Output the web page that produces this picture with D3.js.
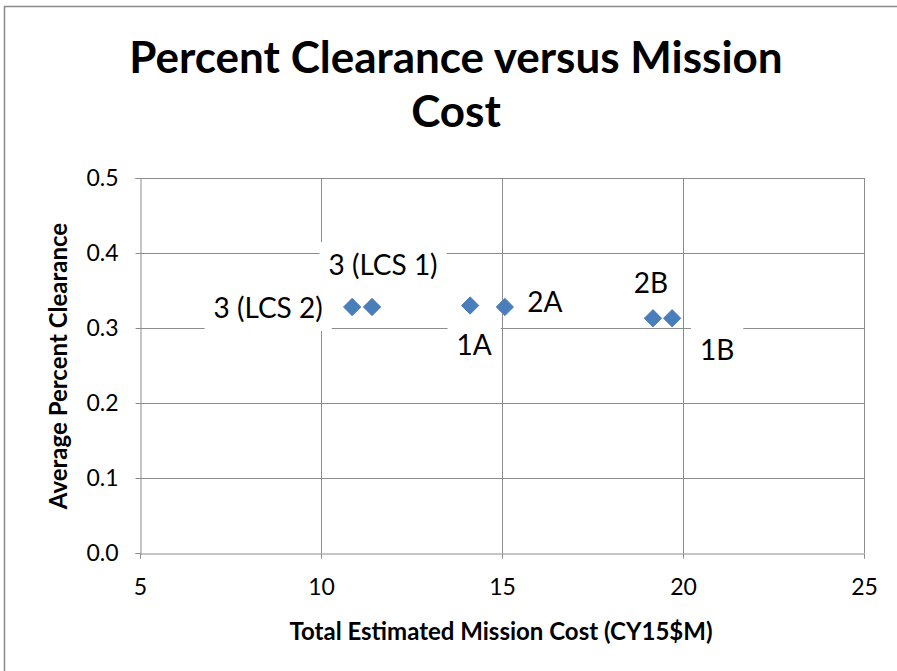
<!DOCTYPE html>
<html>
<head>
<meta charset="utf-8">
<script src="https://cdnjs.cloudflare.com/ajax/libs/d3/7.8.5/d3.min.js"></script>
<style>
  body { margin: 0; background: #fff; }
  svg { display: block; }
  text { font-family: Lato, "Open Sans", sans-serif; fill: #000; }
</style>
</head>
<body>
<svg id="chart"></svg>
<script>
// data
const missions  = ["3 (LCS 2)", "3 (LCS 1)", "1A", "2A", "2B", "1B"];
const costs     = [10.86, 11.41, 14.12, 15.08, 19.17, 19.70];   // CY15 $M
const clearance = [0.328, 0.328, 0.330, 0.328, 0.313, 0.313];
const xTicks = [5, 10, 15, 20, 25];
const yTicks = [0, 0.1, 0.2, 0.3, 0.4, 0.5];

// label placement (offset of label centre from the point, px)
const labelOffset = {
  "3 (LCS 2)": [-84, 1],
  "3 (LCS 1)": [11, -42],
  "1A":        [4, 40],
  "2A":        [40, -5],
  "2B":        [-2, -35],
  "1B":        [45, 32]
};

const width = 897, height = 671;
const margin = {left: 140, right: 33, top: 178, bottom: 118};
const gridColor = '#8c8c8c';
const markerColor = '#4a7ebb';

const svg = d3.select('#chart').attr('width', width).attr('height', height);

// outer chart frame (runs off the right / bottom of the picture)
svg.append('rect')
   .attr('x', 4.5).attr('y', 6.5)
   .attr('width', width + 10).attr('height', height + 10)
   .attr('fill', '#fff').attr('stroke', '#8a8a8a').attr('stroke-width', 1.5);

const x = d3.scaleLinear().domain([5, 25]).range([margin.left, width - margin.right]);
const y = d3.scaleLinear().domain([0, 0.5]).range([height - margin.bottom, margin.top]);

const plot = svg.append('g');

// gridlines
plot.append('g')
    .selectAll('line.h')
    .data(yTicks.slice(1))
    .join('line')
      .attr('x1', x(5)).attr('x2', x(25))
      .attr('y1', d => Math.round(y(d)) + 0.5).attr('y2', d => Math.round(y(d)) + 0.5)
      .attr('stroke', gridColor).attr('stroke-width', 1);

plot.append('g')
    .selectAll('line.v')
    .data(xTicks.slice(1))
    .join('line')
      .attr('x1', d => Math.round(x(d)) + 0.5).attr('x2', d => Math.round(x(d)) + 0.5)
      .attr('y1', y(0.5)).attr('y2', y(0))
      .attr('stroke', gridColor).attr('stroke-width', 1);

// axes
const xAxis = d3.axisBottom(x).tickValues(xTicks).tickSize(5).tickPadding(20).tickFormat(d3.format('d'));
const yAxis = d3.axisLeft(y).tickValues(yTicks).tickSize(5).tickPadding(17).tickFormat(d3.format('.1f'));

const gx = plot.append('g')
    .attr('transform', `translate(0,${Math.round(y(0)) + 0.5})`)
    .call(xAxis);
const gy = plot.append('g')
    .attr('transform', `translate(${Math.round(x(5)) + 0.5},0)`)
    .call(yAxis);

[gx, gy].forEach(g => {
  g.select('.domain').attr('stroke', gridColor);
  g.selectAll('.tick line').attr('stroke', gridColor);
  g.selectAll('.tick text')
   .attr('font-family', 'Lato, sans-serif')
   .attr('font-size', 23)
   .attr('fill', '#222');
});

// data labels with white boxes (they cut the gridlines like in Excel)
const points = missions.map((m, i) => ({name: m, cost: costs[i], clr: clearance[i]}));

const labels = plot.append('g').selectAll('g')
    .data(points)
    .join('g')
      .attr('transform', d => {
        const o = labelOffset[d.name];
        return `translate(${x(d.cost) + o[0]},${y(d.clr) + o[1]})`;
      });

labels.append('rect').attr('fill', '#fff');
labels.append('text')
    .attr('text-anchor', 'middle')
    .attr('dy', '0.35em')
    .attr('font-size', 28)
    .attr('fill', '#111')
    .text(d => d.name);

labels.each(function() {
  const g = d3.select(this);
  const w = g.select('text').node().getComputedTextLength();
  g.select('rect')
   .attr('x', -w / 2 - 9).attr('y', -23)
   .attr('width', w + 18).attr('height', 46);
});

// diamond markers
const diamond = d3.symbol().type(d3.symbolDiamond2).size(190);
plot.append('g').selectAll('path')
    .data(points)
    .join('path')
      .attr('d', diamond)
      .attr('transform', d => `translate(${x(d.cost)},${y(d.clr)})`)
      .attr('fill', markerColor)
      .attr('stroke', markerColor)
      .attr('stroke-width', 1);

// titles
svg.append('text')
   .attr('x', 456).attr('y', 73)
   .attr('text-anchor', 'middle')
   .attr('font-weight', 'bold')
   .attr('font-size', 44)
   .text('Percent Clearance versus Mission');
svg.append('text')
   .attr('x', 456).attr('y', 127)
   .attr('text-anchor', 'middle')
   .attr('font-weight', 'bold')
   .attr('font-size', 44)
   .text('Cost');

svg.append('text')
   .attr('x', 501).attr('y', 640)
   .attr('text-anchor', 'middle')
   .attr('font-weight', 'bold')
   .attr('font-size', 24)
   .text('Total Estimated Mission Cost (CY15$M)');

svg.append('text')
   .attr('transform', 'translate(67,366) rotate(-90)')
   .attr('text-anchor', 'middle')
   .attr('font-weight', 'bold')
   .attr('font-size', 24)
   .text('Average Percent Clearance');
</script>
</body>
</html>
